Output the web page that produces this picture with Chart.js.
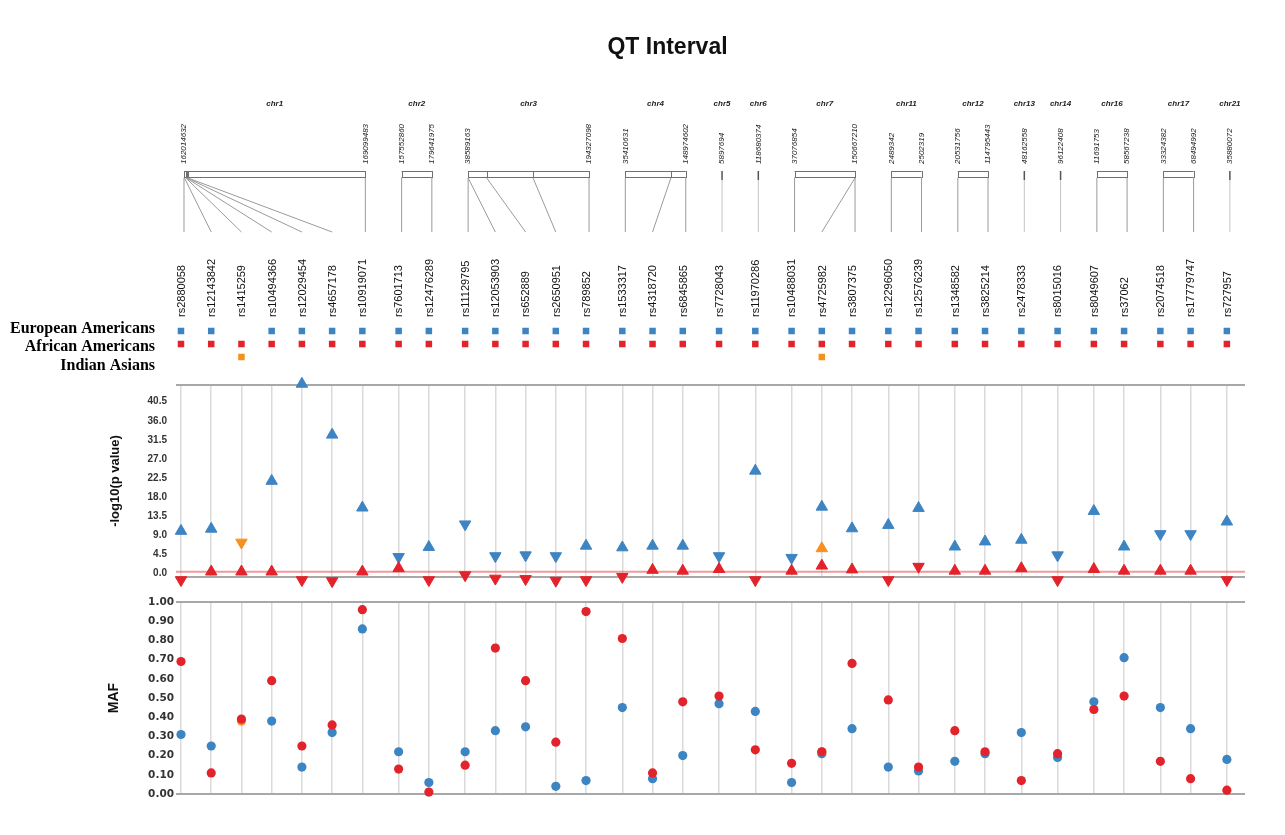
<!DOCTYPE html>
<html>
<head>
<meta charset="utf-8">
<title>QT Interval</title>
<script src="https://cdn.jsdelivr.net/npm/chart.js@4/dist/chart.umd.min.js"></script>
<style>
  html, body { margin: 0; padding: 0; background: #ffffff; }
  #wrap { position: relative; width: 1285px; height: 835px; overflow: hidden; }
  #wrap canvas { position: absolute; left: 0; }
</style>
</head>
<body>
<div id="wrap">
  <canvas id="head" width="1285" height="380" style="top:0px"></canvas>
  <canvas id="pval" width="1285" height="230" style="top:370px"></canvas>
  <canvas id="maf" width="1285" height="245" style="top:590px"></canvas>
</div>
<script>
// ---- SNPs, grouped by chromosome ----
const SNPS = ['rs2880058','rs12143842','rs1415259','rs10494366','rs12029454','rs4657178','rs10919071',
  'rs7601713','rs12476289',
  'rs11129795','rs12053903','rs652889','rs2650951','rs789852',
  'rs1533317','rs4318720','rs6845865',
  'rs7728043',
  'rs11970286',
  'rs10488031','rs4725982','rs3807375',
  'rs12296050','rs12576239',
  'rs1348582','rs3825214',
  'rs2478333',
  'rs8015016',
  'rs8049607','rs37062',
  'rs2074518','rs17779747',
  'rs727957'];
const CHROMS = ['chr1','chr2','chr3','chr4','chr5','chr6','chr7','chr11','chr12','chr13','chr14','chr16','chr17','chr21'];
const SNPS_PER_CHROM = [7, 2, 5, 3, 1, 1, 3, 2, 2, 1, 1, 2, 2, 1];
// base-pair positions
const SNP_POS = [162014632, 162033890, 162090000, 162110000, 162130000, 162170000, 169099483,
  157552860, 179641975,
  38589163, 38620000, 62500000, 122200000, 194327098,
  35410631, 121000000, 148974602,
  5897694,
  118680374,
  37076854, 150600000, 150667210,
  2489342, 2502319,
  20531756, 114795443,
  48162558,
  96122408,
  11691753, 58567238,
  33324382, 68494992,
  35880072];

const POPULATIONS = ['European Americans', 'African Americans', 'Indian Asians'];

// -log10(p) per population (null = not tested); direction of effect: 1 up, -1 down
const P_EA = [10.0, 10.5, null, 21.8, 44.7, 32.7, 15.5, 3.9, 6.2, 11.6, 4.1, 4.3, 4.1, 6.5, 6.1, 6.5, 6.5,
  4.1, 24.2, 3.7, 15.7, 10.6, 11.4, 15.4, 6.3, 7.5, 7.9, 4.3, 14.7, 6.3, 9.3, 9.3, 12.2];
const DIR_EA = [1, 1, null, 1, 1, 1, 1, -1, 1, -1, -1, -1, -1, 1, 1, 1, 1,
  -1, 1, -1, 1, 1, 1, 1, 1, 1, 1, -1, 1, 1, -1, -1, 1];
const P_AA = [-1.56, 0.4, 0.4, 0.4, -1.56, -1.8, 0.4, 1.2, -1.56, -0.4, -1.2, -1.3, -1.7, -1.56, -0.8, 0.8, 0.6,
  1.0, -1.56, 0.6, 1.8, 0.9, -1.56, 1.6, 0.6, 0.6, 1.2, -1.56, 1.0, 0.6, 0.6, 0.6, -1.56];
const DIR_AA = [-1, 1, 1, 1, -1, -1, 1, 1, -1, -1, -1, -1, -1, -1, -1, 1, 1,
  1, -1, 1, 1, 1, -1, -1, 1, 1, 1, -1, 1, 1, 1, 1, -1];
const P_IA = [null, null, 7.3, null, null, null, null, null, null, null, null, null, null, null, null, null, null,
  null, null, null, 5.9, null, null, null, null, null, null, null, null, null, null, null, null];
const DIR_IA = [null, null, -1, null, null, null, null, null, null, null, null, null, null, null, null, null, null,
  null, null, null, 1, null, null, null, null, null, null, null, null, null, null, null, null];

// minor allele frequency per population
const MAF_EA = [0.31, 0.25, null, 0.38, 0.14, 0.32, 0.86, 0.22, 0.06, 0.22, 0.33, 0.35, 0.04, 0.07, 0.45, 0.08, 0.20,
  0.47, 0.43, 0.06, 0.21, 0.34, 0.14, 0.12, 0.17, 0.21, 0.32, 0.19, 0.48, 0.71, 0.45, 0.34, 0.18];
const MAF_AA = [0.69, 0.11, 0.39, 0.59, 0.25, 0.36, 0.96, 0.13, 0.01, 0.15, 0.76, 0.59, 0.27, 0.95, 0.81, 0.11, 0.48,
  0.51, 0.23, 0.16, 0.22, 0.68, 0.49, 0.14, 0.33, 0.22, 0.07, 0.21, 0.44, 0.51, 0.17, 0.08, 0.02];
const MAF_IA = [null, null, 0.38, null, null, null, null, null, null, null, null, null, null, null, null, null, null,
  null, null, null, 0.22, null, null, null, null, null, null, null, null, null, null, null, null];

const P_TICKS = [0, 4.5, 9, 13.5, 18, 22.5, 27, 31.5, 36, 40.5];
const MAF_TICKS = [0, 0.1, 0.2, 0.3, 0.4, 0.5, 0.6, 0.7, 0.8, 0.9, 1.0];
const P_THRESHOLD = 0.4;

// ---- styling / layout ----
const BLUE = '#3d84c3', RED = '#e3232b', ORANGE = '#f6901e';
const SANS = '"Liberation Sans", Arial, Helvetica, sans-serif';
const SERIF = '"Liberation Serif", "Times New Roman", serif';
const CHROM_GAP = 0.2;          // extra spacing between chromosome groups (in SNP slots)
const AREA_LEFT = 176, AREA_RIGHT_PAD = 40;

Chart.defaults.font.family = SANS;
Chart.defaults.animation = false;

// x slot of each SNP: its index plus a small gap for every chromosome boundary
const SNP_CHROM = [];
SNPS_PER_CHROM.forEach((n, c) => { for (let k = 0; k < n; k++) SNP_CHROM.push(c); });
const X = SNPS.map((_, i) => i + CHROM_GAP * SNP_CHROM[i]);
const X_MIN = X[0] - 0.165, X_MAX = X[X.length - 1] + 0.6;

const snpTicks = axis => { axis.ticks = X.map(v => ({ value: v })); };

function points(values, dirs) {
  const out = [];
  values.forEach((v, i) => { if (v !== null) out.push({ x: X[i], y: v, dir: dirs ? dirs[i] : 1 }); });
  return out;
}

function presence(values, row) {
  const out = [];
  values.forEach((v, i) => { if (v !== null) out.push({ x: X[i], y: row }); });
  return out;
}

const rotateByDir = ctx => (ctx.raw && ctx.raw.dir < 0 ? 180 : 0);

// ---- header: chromosome brackets, coordinates, connectors and population labels ----
const genomeHeader = {
  id: 'genomeHeader',
  afterDraw(chart) {
    const { ctx } = chart;
    const xs = chart.scales.x;
    ctx.save();
    let start = 0;
    CHROMS.forEach((name, c) => {
      const n = SNPS_PER_CHROM[c];
      const idx = Array.from({ length: n }, (_, k) => start + k);
      start += n;
      const px = idx.map(i => xs.getPixelForValue(X[i]));
      const pos = idx.map(i => SNP_POS[i]);
      const L = px[0] + 3, R = px[n - 1] + 3;
      const pMin = pos[0], pMax = pos[n - 1];
      const toPx = p => (n === 1 ? L : L + (p - pMin) / (pMax - pMin) * (R - L));

      ctx.fillStyle = '#222';
      ctx.font = 'italic bold 8px ' + SANS;
      ctx.textAlign = 'center';
      ctx.textBaseline = 'middle';
      ctx.fillText(name, (L + R) / 2, 104);

      ctx.font = 'italic 8px ' + SANS;
      const ends = n === 1 ? [[L, pMin]] : [[L, pMin], [R, pMax]];
      ends.forEach(([x, p]) => {
        ctx.save();
        ctx.translate(x, 164);
        ctx.rotate(-Math.PI / 2);
        ctx.textAlign = 'left';
        ctx.fillText(String(p), 0, 0);
        ctx.restore();
      });

      if (n > 1) {
        ctx.strokeStyle = '#707070';
        ctx.lineWidth = 1;
        ctx.beginPath();
        ctx.moveTo(L, 171.5); ctx.lineTo(R, 171.5);
        ctx.moveTo(L, 177.5); ctx.lineTo(R, 177.5);
        pos.forEach(p => { const x = Math.round(toPx(p)) + 0.5; ctx.moveTo(x, 171); ctx.lineTo(x, 178); });
        ctx.stroke();
        ctx.strokeStyle = '#9a9a9a';
        ctx.beginPath();
        pos.forEach((p, k) => {
          const top = toPx(p);
          const isEnd = k === 0 || k === n - 1;
          ctx.moveTo(top, 178);
          ctx.lineTo(isEnd ? top : px[k], 232);
        });
        ctx.stroke();
      } else {
        ctx.strokeStyle = '#555';
        ctx.lineWidth = 1.5;
        ctx.beginPath(); ctx.moveTo(L, 171); ctx.lineTo(L, 180); ctx.stroke();
        ctx.strokeStyle = '#c4c4c4';
        ctx.lineWidth = 1;
        ctx.beginPath(); ctx.moveTo(L, 180); ctx.lineTo(L, 232); ctx.stroke();
      }
    });

    ctx.fillStyle = '#000';
    ctx.font = 'bold 16px ' + SERIF;
    ctx.textAlign = 'right';
    ctx.textBaseline = 'middle';
    const labelY = [329, 347, 366];
    POPULATIONS.forEach((p, k) => ctx.fillText(p, 155, labelY[k]));
    ctx.restore();
  }
};

// ---- panel frame (top/bottom rules) and significance line ----
const panelFrame = {
  id: 'panelFrame',
  beforeDatasetsDraw(chart, args, opts) {
    const { ctx, chartArea: a } = chart;
    ctx.save();
    ctx.strokeStyle = '#a8a8a8';
    ctx.lineWidth = 2;
    ctx.beginPath();
    ctx.moveTo(a.left, a.top); ctx.lineTo(a.right, a.top);
    ctx.moveTo(a.left, a.bottom); ctx.lineTo(a.right, a.bottom);
    ctx.stroke();
    if (opts && opts.threshold !== undefined && opts.threshold !== null) {
      const y = chart.scales.y.getPixelForValue(opts.threshold);
      ctx.strokeStyle = 'rgba(236,110,110,0.7)';
      ctx.lineWidth = 2;
      ctx.beginPath(); ctx.moveTo(a.left, y); ctx.lineTo(a.right, y); ctx.stroke();
    }
    ctx.restore();
  }
};

function panelX() {
  return {
    type: 'linear', min: X_MIN, max: X_MAX,
    afterBuildTicks: snpTicks,
    ticks: { display: false },
    grid: { color: '#dadada', lineWidth: 1.5, drawTicks: false },
    border: { display: false }
  };
}

// ---- header chart: SNP names and population presence ----
new Chart(document.getElementById('head'), {
  type: 'scatter',
  data: {
    datasets: [
      { label: POPULATIONS[0], data: presence(P_EA, 1), pointStyle: 'rect', pointRadius: 4.6, backgroundColor: BLUE, borderWidth: 0 },
      { label: POPULATIONS[1], data: presence(P_AA, 2), pointStyle: 'rect', pointRadius: 4.6, backgroundColor: RED, borderWidth: 0 },
      { label: POPULATIONS[2], data: presence(P_IA, 3), pointStyle: 'rect', pointRadius: 4.6, backgroundColor: ORANGE, borderWidth: 0 }
    ]
  },
  options: {
    responsive: false,
    events: [],
    layout: { padding: { left: 50, right: 0, top: 0, bottom: 10 } },
    plugins: {
      legend: { display: false },
      tooltip: { enabled: false },
      title: {
        display: true, text: 'QT Interval', color: '#111',
        font: { size: 23, weight: 'bold', family: SANS },
        padding: { top: 34, bottom: 10 }
      }
    },
    scales: {
      x: {
        type: 'linear', position: 'top', min: X_MIN, max: X_MAX,
        afterBuildTicks: snpTicks,
        afterFit: axis => { axis.height = 318 - (34 + 23 * 1.2 + 10); },
        grid: { display: false, drawTicks: false },
        border: { display: false },
        ticks: {
          autoSkip: false, minRotation: 90, maxRotation: 90, padding: 1, labelOffset: 14,
          color: '#111', font: { size: 11, family: SANS },
          callback: (v, i) => SNPS[i]
        }
      },
      y: {
        position: 'left', min: 0, max: 4, reverse: true,
        afterFit: axis => { axis.width = AREA_LEFT - 50; },
        ticks: { display: false }, grid: { display: false }, border: { display: false }
      },
      y2: {
        position: 'right', min: 0, max: 1,
        afterFit: axis => { axis.width = AREA_RIGHT_PAD; },
        ticks: { display: false }, grid: { display: false }, border: { display: false }
      }
    }
  },
  plugins: [genomeHeader]
});

// ---- association panel ----
const triangle = (label, values, dirs, color) => ({
  label, data: points(values, dirs), pointStyle: 'triangle', pointRadius: 6.6,
  pointRotation: rotateByDir, backgroundColor: color, borderColor: color, borderWidth: 1, clip: false
});

new Chart(document.getElementById('pval'), {
  type: 'scatter',
  data: {
    datasets: [
      triangle(POPULATIONS[1], P_AA, DIR_AA, RED),
      triangle(POPULATIONS[2], P_IA, DIR_IA, ORANGE),
      triangle(POPULATIONS[0], P_EA, DIR_EA, BLUE)
    ]
  },
  options: {
    responsive: false,
    events: [],
    layout: { padding: { left: 104, right: AREA_RIGHT_PAD, top: 15, bottom: 23 } },
    plugins: { legend: { display: false }, tooltip: { enabled: false }, panelFrame: { threshold: P_THRESHOLD } },
    scales: {
      x: panelX(),
      y: {
        min: -0.85, max: 44.45,
        afterBuildTicks: axis => { axis.ticks = P_TICKS.map(v => ({ value: v })); },
        afterFit: axis => { axis.width = AREA_LEFT - 104; },
        grid: { display: false, drawTicks: false },
        border: { display: false },
        ticks: { padding: 9, color: '#333', font: { size: 10, weight: 'bold', family: SANS }, callback: v => v.toFixed(1) },
        title: { display: true, text: '-log10(p value)', color: '#111', font: { size: 13, weight: 'bold', family: SANS }, padding: { top: 4, bottom: 0 } }
      }
    }
  },
  plugins: [panelFrame]
});

// ---- allele frequency panel ----
const dots = (label, values, color) => ({
  label, data: points(values), pointStyle: 'circle', pointRadius: 4.6,
  backgroundColor: color, borderColor: color, borderWidth: 0, clip: false
});

new Chart(document.getElementById('maf'), {
  type: 'scatter',
  data: {
    datasets: [
      dots(POPULATIONS[1], MAF_AA, RED),
      dots(POPULATIONS[2], MAF_IA, ORANGE),
      dots(POPULATIONS[0], MAF_EA, BLUE)
    ]
  },
  options: {
    responsive: false,
    events: [],
    layout: { padding: { left: 104, right: AREA_RIGHT_PAD, top: 12, bottom: 41 } },
    plugins: { legend: { display: false }, tooltip: { enabled: false }, panelFrame: {} },
    scales: {
      x: panelX(),
      y: {
        min: 0, max: 1,
        afterBuildTicks: axis => { axis.ticks = MAF_TICKS.map(v => ({ value: v })); },
        afterFit: axis => { axis.width = AREA_LEFT - 104; },
        grid: { display: false, drawTicks: false },
        border: { display: false },
        ticks: { padding: 2, color: '#333', font: { size: 10.5, weight: 'bold', family: '"DejaVu Sans", sans-serif' }, callback: v => v.toFixed(2) },
        title: { display: true, text: 'MAF', color: '#111', font: { size: 14, weight: 'bold', family: SANS }, padding: { top: 2, bottom: 0 } }
      }
    }
  },
  plugins: [panelFrame]
});
</script>
</body>
</html>
